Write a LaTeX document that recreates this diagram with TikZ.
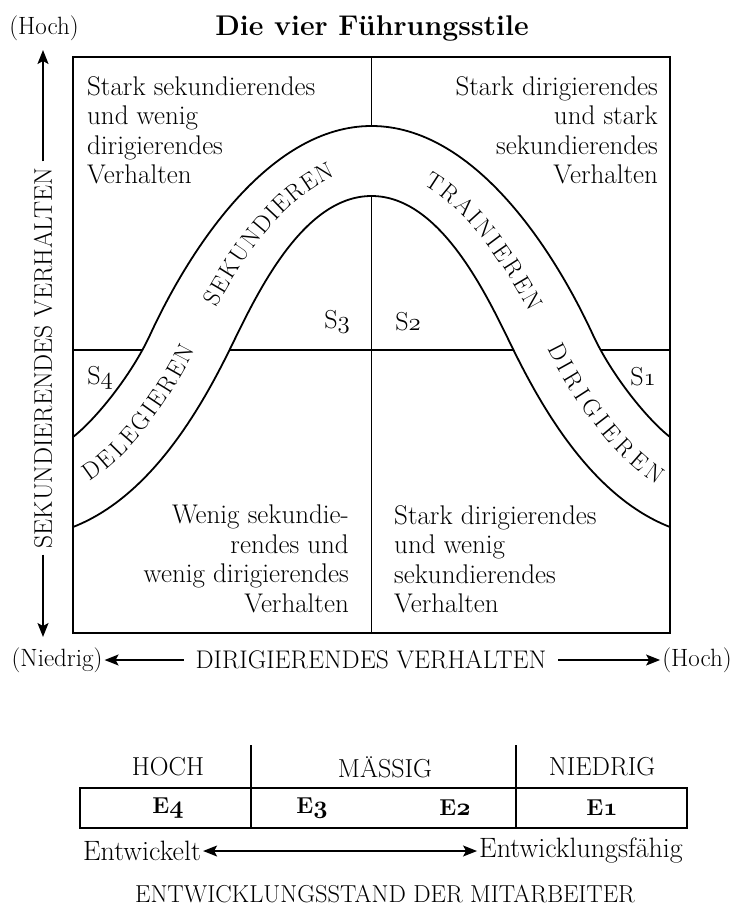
\documentclass[tikz,border=0pt]{standalone}
\usepackage{fontspec}
\usetikzlibrary{arrows.meta, decorations.text}
\newcommand\osnum[1]{{\usefont{OML}{cmm}{m}{it}#1}}
\newcommand\osnumb[1]{{\usefont{OML}{cmm}{b}{it}#1}}

\begin{document}
\begin{tikzpicture}[x=1pt, y=-1pt, >={Stealth[length=14pt, width=11pt, inset=3pt]},
    body/.style={font=\fontsize{27}{29.5}\selectfont, inner sep=0pt},
    small/.style={font=\fontsize{25}{25}\selectfont, inner sep=2pt},
    caps/.style={font=\fontsize{25.5}{25.5}\selectfont, inner sep=2pt},
    axisline/.style={->, line width=1.3pt},
    rim/.style={line width=1.8pt},
    onband/.style n args={3}{postaction={decorate, decoration={text along path, raise=-8pt,
        text align={left indent=#1}, text={|\fontsize{24}{24}\selectfont\kern#2|#3}}}}]
    \useasboundingbox (0,0) rectangle (734,912);

    % title and axis labels
    \node[font=\fontsize{28.5}{28.5}\selectfont\bfseries] (title) at (372,28) {Die vier Führungsstile};
    \node[small] (yhi) at (44,28) {(Hoch)};
    \node[caps, rotate=90, inner xsep=6pt] (ylab) at (43,358) {SEKUNDIERENDES VERHALTEN};
    \coordinate (ytop) at (43,50);
    \coordinate (ybot) at (43,637);
    \draw[axisline] (ylab) -- (ytop);
    \draw[axisline] (ylab) -- (ybot);

    \node[small] (xlo) at (57,660) {(Niedrig)};
    \node[caps, inner xsep=12pt] (xlab) at (371,660) {DIRIGIERENDES VERHALTEN};
    \node[small] (xhi) at (697,660) {(Hoch)};
    \draw[axisline] (xlab) -- (xlo);
    \draw[axisline] (xlab) -- (xhi);

    % quadrants
    \draw[rim] (371.5,57) -- (371.5,633);
    \draw[rim] (73,350) -- (670,350);

    % the curve band
    \fill[white] (73,437) .. controls (95,420) and (131,376) .. (150,335)
        .. controls (192,244) and (271.5,126) .. (371.5,126)
        .. controls (471.5,126) and (551,244) .. (593,335)
        .. controls (612,376) and (648,420) .. (670,437)
        -- (670,527) .. controls (593,497) and (543,410) .. (513,349)
        .. controls (488,298) and (441.5,196) .. (371.5,196)
        .. controls (301.5,196) and (255,298) .. (230,349)
        .. controls (200,410) and (150,497) .. (73,527) -- cycle;
    \draw[rim] (73,437) .. controls (95,420) and (131,376) .. (150,335)
        .. controls (192,244) and (271.5,126) .. (371.5,126)
        .. controls (471.5,126) and (551,244) .. (593,335)
        .. controls (612,376) and (648,420) .. (670,437);
    \draw[rim] (73,527) .. controls (150,497) and (200,410) .. (230,349)
        .. controls (255,298) and (301.5,196) .. (371.5,196)
        .. controls (441.5,196) and (488,298) .. (513,349)
        .. controls (543,410) and (593,497) .. (670,527);
    \path[onband={12pt}{2pt}{DELEGIEREN}, onband={226pt}{2pt}{SEKUNDIEREN},
          onband={511pt}{3pt}{TRAINIEREN}, onband={722pt}{4pt}{DIRIGIEREN}]
        (73,482) .. controls (122,458) and (165,393) .. (190,342)
        .. controls (223.5,271) and (286.5,161) .. (371.5,161)
        .. controls (456.5,161) and (519.5,271) .. (553,342)
        .. controls (578,393) and (621,458) .. (670,482);

    \draw[rim] (73,57) rectangle (670,633);

    % quadrant texts
    \node[body, anchor=north west, align=left] (tl) at (87,76) {Stark sekundierendes\\und wenig\\dirigierendes\\Verhalten};
    \node[body, anchor=north east, align=right] (tr) at (658,76) {Stark dirigierendes\\und stark\\sekundierendes\\Verhalten};
    \node[body, anchor=north east, align=right] (bl) at (349,505) {Wenig sekundie-\\rendes und\\wenig dirigierendes\\Verhalten};
    \node[body, anchor=north west, align=left] (br) at (394,505) {Stark dirigierendes\\und wenig\\sekundierendes\\Verhalten};
    \node[small, font=\fontsize{26}{26}\selectfont] (s3) at (337,322) {S\osnum{3}};
    \node[small, font=\fontsize{26}{26}\selectfont] (s2) at (408,322) {S\osnum{2}};
    \node[small, font=\fontsize{26}{26}\selectfont] (s4) at (100,378) {S\osnum{4}};
    \node[small, font=\fontsize{26}{26}\selectfont] (s1) at (643,377) {S\osnum{1}};

    % development scale
    \node[caps, font=\fontsize{26}{26}\selectfont] (hoch) at (168,767) {HOCH};
    \node[caps, font=\fontsize{26}{26}\selectfont] (maessig) at (385,767) {MÄSSIG};
    \node[caps, font=\fontsize{26}{26}\selectfont] (niedrig) at (602,767) {NIEDRIG};
    \draw[rim] (80,788) rectangle (687,828);
    \draw[rim] (251,745) -- (251,828);
    \draw[rim] (516,745) -- (516,828);
    \node[small, font=\fontsize{23}{23}\selectfont\bfseries] (e4) at (168,808) {E\osnumb{4}};
    \node[small, font=\fontsize{23}{23}\selectfont\bfseries] (e3) at (312,808) {E\osnumb{3}};
    \node[small, font=\fontsize{23}{23}\selectfont\bfseries] (e2) at (455,808) {E\osnumb{2}};
    \node[small, font=\fontsize{23}{23}\selectfont\bfseries] (e1) at (602,808) {E\osnumb{1}};
    \node[body, font=\fontsize{28}{28}\selectfont, inner sep=2pt] (entw) at (142,851) {Entwickelt};
    \node[body, font=\fontsize{28}{28}\selectfont, inner sep=2pt] (faehig) at (581,851) {Entwicklungsfähig};
    \draw[<->, line width=1.3pt] (entw) -- (faehig);
    \node[caps, font=\fontsize{24.5}{24.5}\selectfont] (stand) at (385,894) {ENTWICKLUNGSSTAND DER MITARBEITER};
\end{tikzpicture}
\end{document}
